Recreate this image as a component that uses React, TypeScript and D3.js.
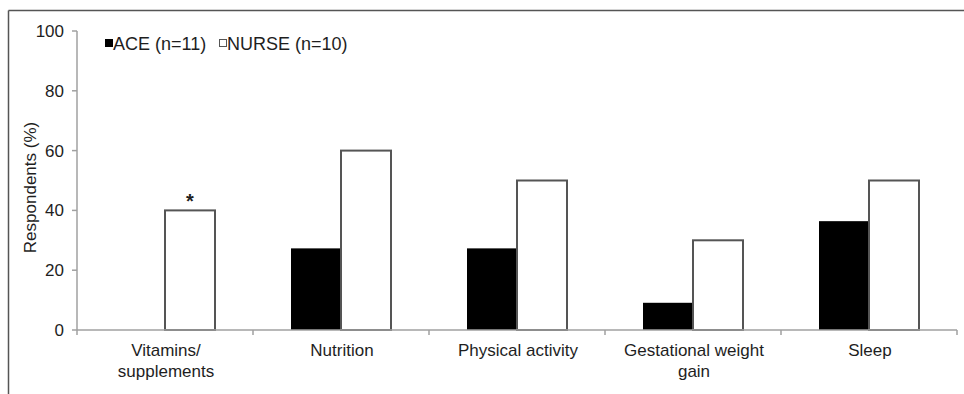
import React from "react";
import * as d3 from "d3";

const categories: string[][] = [
  ["Vitamins/", "supplements"],
  ["Nutrition"],
  ["Physical activity"],
  ["Gestational weight", "gain"],
  ["Sleep"],
];
const aceValues = [0, 27.3, 27.3, 9.1, 36.4];
const nurseValues = [40, 60, 50, 30, 50];
const yTicks = [0, 20, 40, 60, 80, 100];
const seriesNames = ["ACE (n=11)", "NURSE (n=10)"];
const starFlags = [true, false, false, false, false];

export default function App() {
  const W = 964, H = 394;
  const left = 77, right = 957, top = 31, bottom = 330;
  const idx = categories.map((_, i) => i);
  const x = d3.scaleBand<number>().domain(idx).range([left, right]).paddingInner(0).paddingOuter(0);
  const y = d3.scaleLinear().domain([0, 100]).range([bottom, top]);
  const bw = x.bandwidth();
  const barW = bw * 50 / 176;
  const font = "'Liberation Sans', Arial, sans-serif";
  const textColor = "#1e1e1e";
  const axisColor = "#a0a0a0";

  return (
    <svg width={W} height={H} style={{ position: "absolute", left: 0, top: 0, background: "#fff" }}>
      {/* frame */}
      <line x1={8.5} y1={10.5} x2={W} y2={10.5} stroke="#555" strokeWidth={1.5} />
      <line x1={8.5} y1={10.5} x2={8.5} y2={H} stroke="#555" strokeWidth={1.5} />

      {/* bars */}
      {idx.map((i) => {
        const c = (x(i) as number) + bw / 2;
        return (
          <g key={i}>
            {aceValues[i] > 0 && (
              <rect x={c - barW} y={y(aceValues[i])} width={barW} height={bottom - y(aceValues[i])} fill="#000" />
            )}
            <rect x={c} y={y(nurseValues[i])} width={barW} height={bottom - y(nurseValues[i])} fill="#fff" stroke="#555" strokeWidth={2} />
            {starFlags[i] && (
              <text x={c + barW / 2} y={y(nurseValues[i]) - 2} textAnchor="middle" fontFamily={font} fontSize={20} fontWeight="bold" fill={textColor}>*</text>
            )}
          </g>
        );
      })}

      {/* y axis */}
      <line x1={left} y1={top} x2={left} y2={bottom} stroke={axisColor} strokeWidth={1.5} />
      {yTicks.map((t) => (
        <g key={t}>
          <line x1={left - 5} y1={y(t)} x2={left} y2={y(t)} stroke={axisColor} strokeWidth={1.5} />
          <text x={64} y={y(t) + 6} textAnchor="end" fontFamily={font} fontSize={17} fill={textColor}>{t}</text>
        </g>
      ))}
      <text transform={`translate(36,${(top + bottom) / 2 + 7}) rotate(-90)`} textAnchor="middle" fontFamily={font} fontSize={17} fill={textColor}>Respondents (%)</text>

      {/* x axis */}
      <line x1={left} y1={bottom} x2={right} y2={bottom} stroke={axisColor} strokeWidth={1.5} />
      {[...idx.map((i) => x(i) as number), right].map((p, k) => (
        <line key={k} x1={p} y1={bottom} x2={p} y2={bottom + 5} stroke={axisColor} strokeWidth={1.5} />
      ))}
      {idx.map((i) => (
        <text key={i} x={(x(i) as number) + bw / 2} y={356} textAnchor="middle" fontFamily={font} fontSize={17} fill={textColor}>
          {categories[i].map((line, j) => (
            <tspan key={j} x={(x(i) as number) + bw / 2 + 1} dy={j === 0 ? 0 : 21}>{line}</tspan>
          ))}
        </text>
      ))}

      {/* legend */}
      <rect x={105} y={39} width={8} height={8} fill="#000" />
      <text x={113} y={50} fontFamily={font} fontSize={18} fill={textColor}>{seriesNames[0]}</text>
      <rect x={219.5} y={39.5} width={7} height={7} fill="#fff" stroke="#555" strokeWidth={1} />
      <text x={227} y={50} fontFamily={font} fontSize={18} fill={textColor}>{seriesNames[1]}</text>
    </svg>
  );
}
